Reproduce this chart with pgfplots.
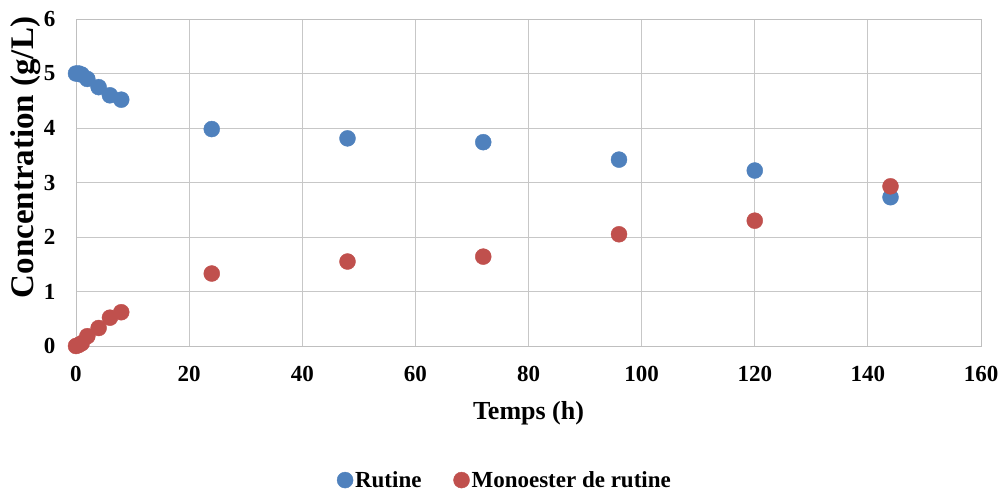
\documentclass[border=0pt]{standalone}
\usepackage{pgfplots}
\pgfplotsset{compat=1.18}
\usepackage{fontspec}
\setmainfont{Liberation Serif}
\definecolor{rblue}{HTML}{4F81BD}
\definecolor{rred}{HTML}{C0504D}
\begin{document}
\begin{tikzpicture}
\path[use as bounding box] (-76pt,-145pt) rectangle (927pt,346pt);
\begin{axis}[
  at={(0,0)}, anchor=south west,
  scale only axis, width=905pt, height=327pt,
  xmin=0, xmax=160, ymin=0, ymax=6,
  xtick={0,20,...,160}, ytick={0,1,...,6},
  grid=major, major grid style={color=black!22, line width=1pt},
  axis line style={color=black!25, line width=1pt},
  major tick length=0pt,
  tick label style={font=\fontsize{23}{26}\selectfont\bfseries},
  /pgf/number format/assume math mode=true,
  xticklabel style={yshift=-17pt},
  yticklabel style={xshift=-17pt},
  xlabel={Temps (h)}, ylabel={Concentration (g/L)},
  xlabel style={font=\fontsize{26}{30}\selectfont\bfseries, yshift=-13pt},
  ylabel style={font=\fontsize{33}{37}\selectfont\bfseries, yshift=-4pt, xshift=25pt},
  legend style={draw=none, at={(0.474,-0.41)}, anchor=center, legend columns=2,
    font=\fontsize{23}{26}\selectfont\bfseries,
    /tikz/every even column/.append style={column sep=30pt}},
  legend image code/.code={\draw[#1] plot coordinates {(0.05cm,0cm)};},
  clip=false,
]
\addplot[only marks, mark=*, mark size=8pt, color=rblue] coordinates {
(0,5.00) (0.5,5.00) (1,4.98) (2,4.90) (4,4.75) (6,4.60) (8,4.52)
(24,3.98) (48,3.81) (72,3.74) (96,3.42) (120,3.22) (144,2.73)};
\addlegendentry{Rutine}
\addplot[only marks, mark=*, mark size=8pt, color=rred] coordinates {
(0,0.00) (0.5,0.02) (1,0.05) (2,0.18) (4,0.33) (6,0.52) (8,0.62)
(24,1.33) (48,1.55) (72,1.64) (96,2.05) (120,2.30) (144,2.93)};
\addlegendentry{Monoester de rutine}
\end{axis}
\end{tikzpicture}
\end{document}
